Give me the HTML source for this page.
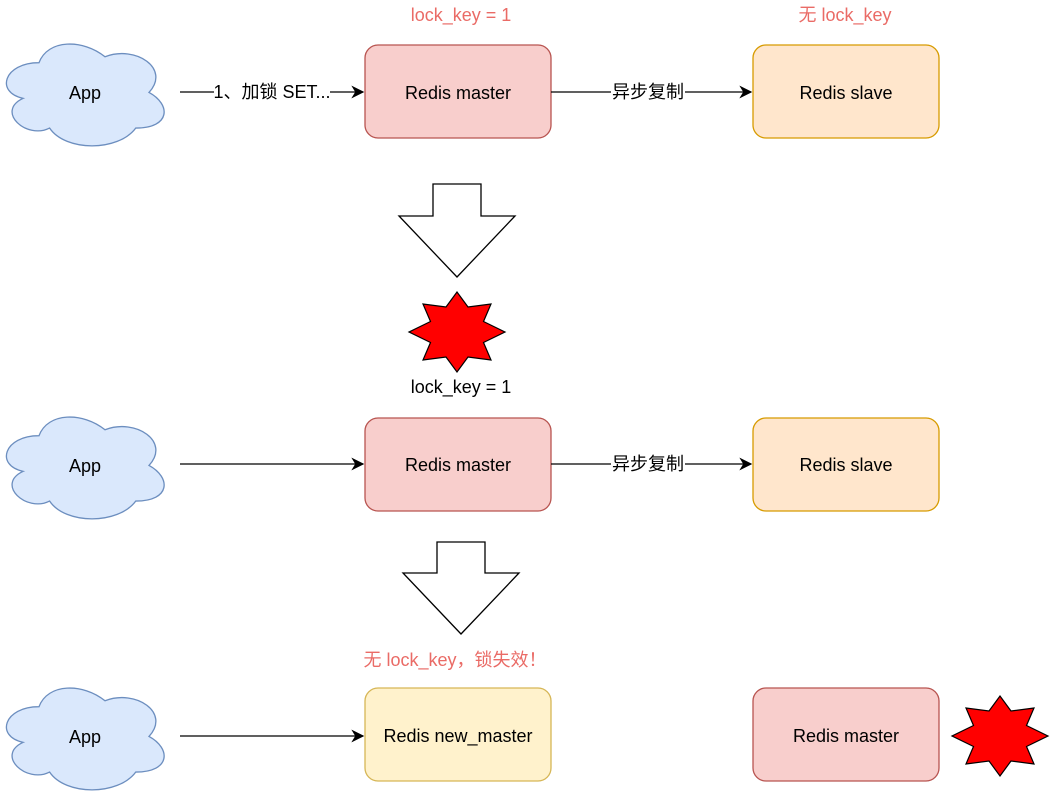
<!DOCTYPE html>
<html><head><meta charset="utf-8"><style>
html,body{margin:0;padding:0;background:#fff;}
svg{display:block;}
text{font-family:"Liberation Sans","Noto Sans CJK SC",sans-serif;font-size:18px;}
</style></head><body>
<svg width="1056" height="796" viewBox="0 0 1056 796" xmlns="http://www.w3.org/2000/svg">
<defs>
<marker id="ar" viewBox="0 0 10 10" refX="9" refY="5" markerWidth="13" markerHeight="13" markerUnits="userSpaceOnUse" orient="auto">
<path d="M0,0 L10,5 L0,10 L3,5 Z" fill="#000"/></marker>
<path id="cloud" d="M40,27.5 C8,27.5 0,55 25.6,60.5 C0,72.6 28.8,99 49.6,88 C64,110 112,110 128,88 C160,88 160,66 140,55 C160,33 128,11 100,22 C80,5.5 48,5.5 40,27.5 Z" fill="#dae8fc" stroke="#6c8ebf" stroke-width="1.2" transform="translate(-8,-4) scale(1.1,1.08)"/>
<polygon id="star" points="48,0 26.5,-10.5 34,-28 11,-25 0,-40 -11,-25 -34,-28 -26.5,-10.5 -48,0 -26.5,10.5 -34,28 -11,25 0,40 11,25 34,28 26.5,10.5" fill="#ff0000" stroke="#000" stroke-width="1.2"/>
</defs>

<!-- Row 1 -->
<text x="461" y="21" text-anchor="middle" fill="#ea6b66">lock_key = 1</text>
<text x="845" y="21" text-anchor="middle" fill="#ea6b66">无 lock_key</text>
<use href="#cloud" x="3" y="37"/>
<text x="85" y="99" text-anchor="middle">App</text>
<rect x="365" y="45" width="186" height="93" rx="13" fill="#f8cecc" stroke="#b85450" stroke-width="1.3"/>
<text x="458" y="99" text-anchor="middle">Redis master</text>
<rect x="753" y="45" width="186" height="93" rx="13" fill="#ffe6cc" stroke="#d79b00" stroke-width="1.3"/>
<text x="846" y="99" text-anchor="middle">Redis slave</text>
<line x1="180" y1="92" x2="363" y2="92" stroke="#000" stroke-width="1.3" marker-end="url(#ar)"/>
<rect x="214" y="81" width="116" height="22" fill="#fff"/>
<text x="272" y="98" text-anchor="middle">1、加锁 SET...</text>
<line x1="551" y1="92" x2="751" y2="92" stroke="#000" stroke-width="1.3" marker-end="url(#ar)"/>
<rect x="611" y="81" width="74" height="22" fill="#fff"/>
<text x="648" y="98" text-anchor="middle">异步复制</text>

<polygon points="433,184 481,184 481,216 515,216 457,277 399,216 433,216" fill="#fff" stroke="#000" stroke-width="1.3"/>
<use href="#star" x="457" y="332"/>
<text x="461" y="393" text-anchor="middle">lock_key = 1</text>

<!-- Row 2 -->
<use href="#cloud" x="3" y="410"/>
<text x="85" y="472" text-anchor="middle">App</text>
<rect x="365" y="418" width="186" height="93" rx="13" fill="#f8cecc" stroke="#b85450" stroke-width="1.3"/>
<text x="458" y="471" text-anchor="middle">Redis master</text>
<rect x="753" y="418" width="186" height="93" rx="13" fill="#ffe6cc" stroke="#d79b00" stroke-width="1.3"/>
<text x="846" y="471" text-anchor="middle">Redis slave</text>
<line x1="180" y1="464" x2="363" y2="464" stroke="#000" stroke-width="1.3" marker-end="url(#ar)"/>
<line x1="551" y1="464" x2="751" y2="464" stroke="#000" stroke-width="1.3" marker-end="url(#ar)"/>
<rect x="611" y="453" width="74" height="22" fill="#fff"/>
<text x="648" y="470" text-anchor="middle">异步复制</text>

<polygon points="437,542 485,542 485,573 519,573 461,634 403,573 437,573" fill="#fff" stroke="#000" stroke-width="1.3"/>
<text x="455" y="666" text-anchor="middle" fill="#ea6b66">无 lock_key，锁失效！</text>

<!-- Row 3 -->
<use href="#cloud" x="3" y="681"/>
<text x="85" y="743" text-anchor="middle">App</text>
<rect x="365" y="688" width="186" height="93" rx="13" fill="#fff2cc" stroke="#d6b656" stroke-width="1.3"/>
<text x="458" y="742" text-anchor="middle">Redis new_master</text>
<rect x="753" y="688" width="186" height="93" rx="13" fill="#f8cecc" stroke="#b85450" stroke-width="1.3"/>
<text x="846" y="742" text-anchor="middle">Redis master</text>
<line x1="180" y1="736" x2="363" y2="736" stroke="#000" stroke-width="1.3" marker-end="url(#ar)"/>
<use href="#star" x="1000" y="736"/>
</svg>
</body></html>
